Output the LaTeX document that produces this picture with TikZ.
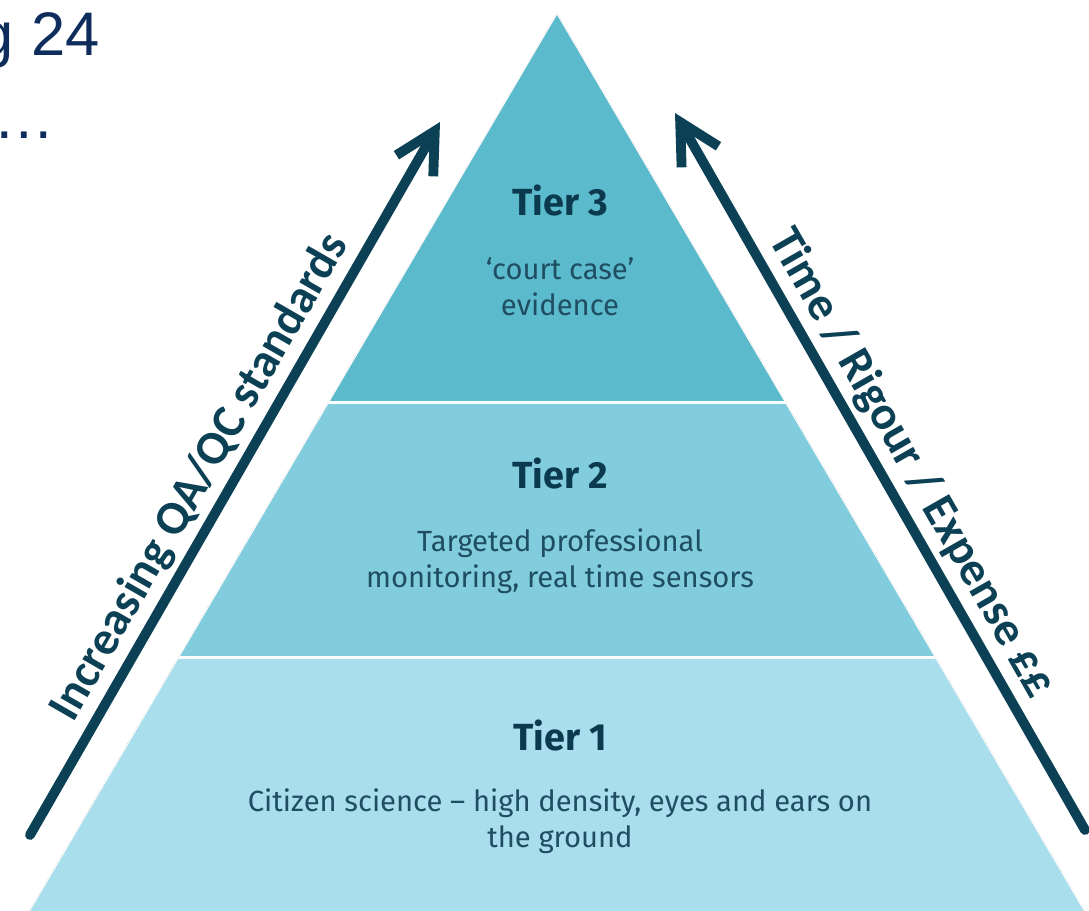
\documentclass[tikz,border=0pt]{standalone}
\usepackage{fontspec}
\setmainfont{Fira Sans}
\newfontfamily\arrowfont{Carlito}
\newfontfamily\slidefont{Liberation Sans}
\usetikzlibrary{arrows.meta}
\definecolor{tierthree}{HTML}{5CBACD}
\definecolor{tiertwo}{HTML}{81CDDE}
\definecolor{tierone}{HTML}{A9DEEC}
\definecolor{arrowblue}{HTML}{0B4055}
\definecolor{headblue}{HTML}{0B3A4F}
\definecolor{bodyblue}{HTML}{1F4E62}
\definecolor{slidenavy}{HTML}{0E2D5C}
\tikzset{
  tierhead/.style={anchor=base, inner sep=0pt, text=headblue,
    font=\fontsize{21.5}{24}\selectfont\bfseries},
  tierbody/.style={anchor=north, inner sep=0pt, align=center, text=bodyblue,
    font=\fontsize{16.6}{20.5}\selectfont},
  bigarrow/.style={draw=arrowblue, line width=5.6pt, line cap=round,
    -{Straight Barb[length=0.8cm, width=0.85cm]}},
  arrowlabel/.style={sloped, above, inner sep=3pt, text=arrowblue,
    font=\arrowfont\fontsize{27}{30}\selectfont\bfseries},
  slidetext/.style={inner sep=0pt, text=slidenavy,
    font=\slidefont\fontsize{35}{40}\selectfont},
}
\begin{document}
\begin{tikzpicture}[x=0.02cm, y=-0.02cm]
  \useasboundingbox (0,0) rectangle (1089,910);
  \clip (0,0) rectangle (1089,910);
  % Slide text cut off at the left
  \node[slidetext, anchor=base east] (slide title) at (100,55) {g 24};
  \node[slidetext, anchor=base east] (slide more) at (55,138) {…};
  % Pyramid corners
  \coordinate (apex) at (557,13);
  \coordinate (l3) at (328.3,402);
  \coordinate (r3) at (785.7,402);
  \coordinate (l2) at (178.3,657);
  \coordinate (r2) at (935.7,657);
  \coordinate (l1) at (26.7,915);
  \coordinate (r1) at (1087.3,915);
  % Tiers
  \fill[tierone] (l2) -- (r2) -- (r1) -- (l1) -- cycle;
  \fill[tiertwo] (l3) -- (r3) -- (r2) -- (l2) -- cycle;
  \fill[tierthree] (apex) -- (r3) -- (l3) -- cycle;
  \draw[white, line width=1.7pt] (l3) -- (r3) (l2) -- (r2);
  \draw[white, line width=1pt] (l1) -- (apex) -- (r1);
  \draw[gray!45, densely dotted, line width=0.3pt] (l1) -- (apex) -- (r1);
  % Tier texts
  \node[tierhead] (tier3) at (560,215) {Tier 3};
  \node[tierbody] (tier3 text) at (560,257) {‘court case’\\evidence};
  \node[tierhead] (tier2) at (560,488) {Tier 2};
  \node[tierbody] (tier2 text) at (560,528) {Targeted professional\\monitoring, real time sensors};
  \node[tierhead] (tier1) at (560,750) {Tier 1};
  \node[tierbody] (tier1 text) at (560,788) {Citizen science – high density, eyes and ears on\\the ground};
  % Side arrows
  \coordinate (qa foot) at (30,835);
  \coordinate (qa tip) at (440,122);
  \coordinate (cost foot) at (1085,830);
  \coordinate (cost tip) at (675,113);
  \draw[bigarrow] (qa foot) -- node[arrowlabel, pos=0.48] (qa label) {Increasing QA/QC standards} (qa tip);
  \draw[bigarrow] (cost foot) -- node[arrowlabel, pos=0.49] (cost label) {Time / Rigour / Expense ££} (cost tip);
\end{tikzpicture}
\end{document}
